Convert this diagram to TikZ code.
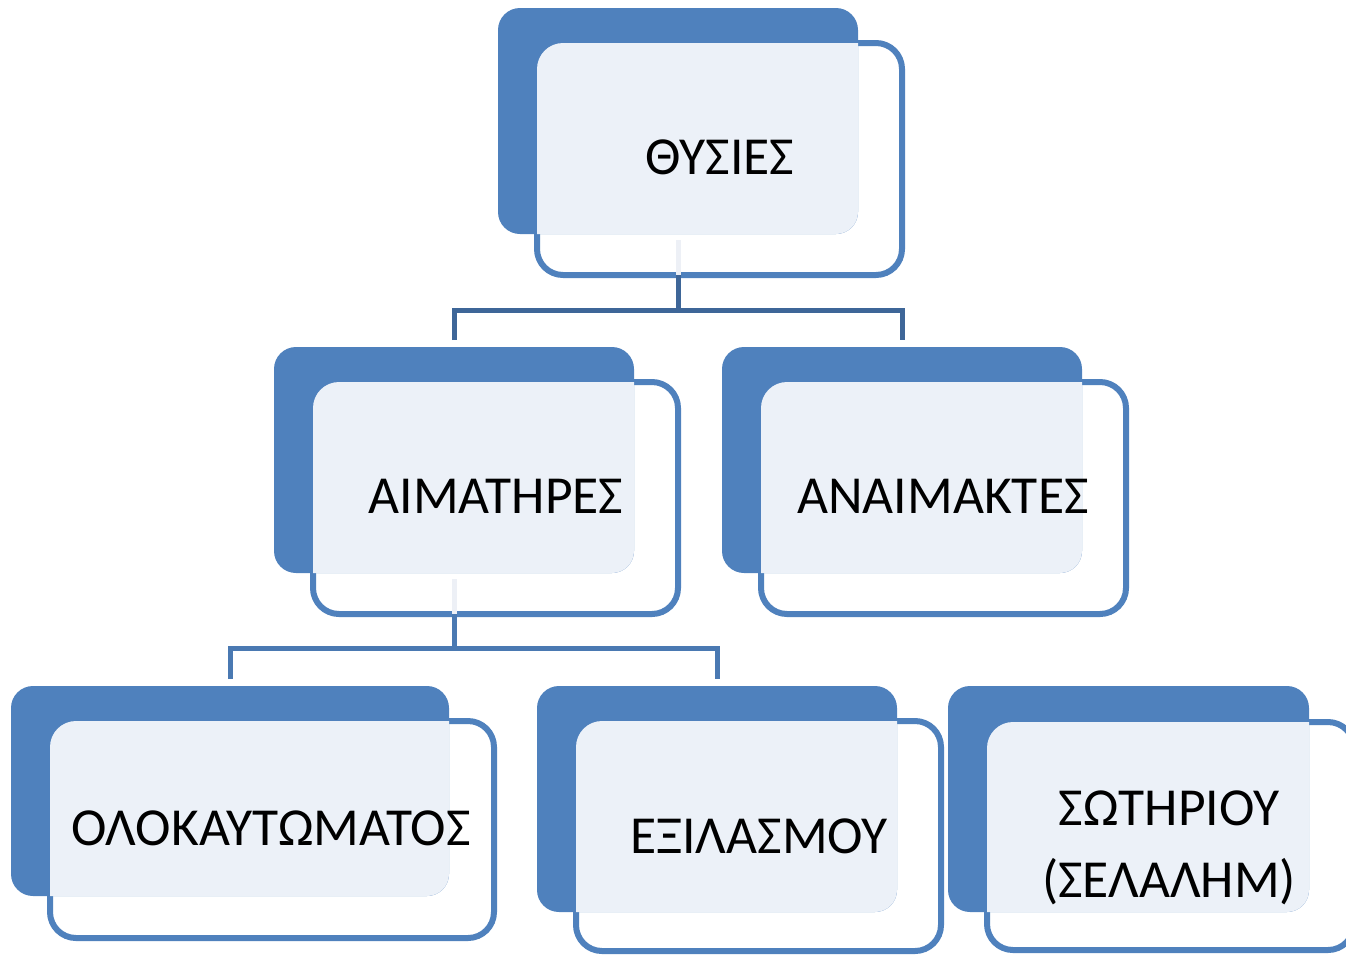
\documentclass[tikz,border=0pt]{standalone}
\usepackage{fontspec}
\setmainfont{Carlito}
\definecolor{accent}{HTML}{4F81BD}
\definecolor{lightfill}{HTML}{ECF1F8}
\definecolor{darkline}{HTML}{3E6698}
\definecolor{midline}{HTML}{4A79B2}
\definecolor{stemlight}{HTML}{EDF0F6}
\newcommand{\sacunit}[8]{%
  % #1 back x1, #2 back y1, #3 back x2, #4 back y2, #5 front x1, #6 front y1, #7 front x2, #8 front y2
  \fill[white] [rounded corners=26] (#5,#6) rectangle (#7,#8);
  \draw[frontline] [rounded corners=26] (#5,#6) rectangle (#7,#8);
  \fill[accent] [rounded corners=22] (#1,#2) rectangle (#3,#4);
  \begin{scope}
    \clip[rounded corners=26] (#5,#6) rectangle (#7,#8);
    \fill[lightfill] [rounded corners=22] (#1,#2) rectangle (#3,#4);
  \end{scope}
}
\begin{document}
\begin{tikzpicture}[x=1pt,y=-1pt,
  frontline/.style={draw=accent,line width=6pt},
  label/.style={font=\fontsize{53.5}{72}\selectfont,inner sep=0pt,anchor=base,align=center},
  toplink/.style={draw=darkline,line width=5pt},
  sublink/.style={draw=midline,line width=5pt},
  lightstem/.style={draw=stemlight,line width=5pt}]
\useasboundingbox (0,0) rectangle (1346,954);
% units
\sacunit{498}{8}{858}{234}{537}{43}{902}{275}
\sacunit{274}{347}{634}{573}{313}{382}{678}{614}
\sacunit{722}{347}{1082}{573}{761}{382}{1126}{614}
\sacunit{11}{686}{449}{896}{50}{721}{494}{938}
\sacunit{537}{686}{897}{912}{576}{721}{941}{951}
\sacunit{948}{686}{1309}{912}{987}{722}{1354}{950}
% texts
\node[label] (thysies) at (720,174) {ΘΥΣΙΕΣ};
\node[label] (aimatires) at (496,513) {ΑΙΜΑΤΗΡΕΣ};
\node[label] (anaimaktes) at (943,513) {ΑΝΑΙΜΑΚΤΕΣ};
\node[label] (olokaftomatos) at (271,845) {ΟΛΟΚΑΥΤΩΜΑΤΟΣ};
\node[label] (exilasmou) at (759,853) {ΕΞΙΛΑΣΜΟΥ};
\node[label,anchor=north] (sotiriou) at (1169,791) {ΣΩΤΗΡΙΟΥ\\(ΣΕΛΑΛΗΜ)};
% connector coordinates
\coordinate (s1a) at (678,240);
\coordinate (s1b) at (678,275);
\coordinate (s1c) at (678,310);
\coordinate (c1l) at (454,340);
\coordinate (c1r) at (902,340);
\coordinate (s2a) at (454,579);
\coordinate (s2b) at (454,614);
\coordinate (s2c) at (454,648);
\coordinate (c2l) at (230,679);
\coordinate (c2r) at (717,679);
% level 1 connectors
\draw[toplink] (s1b) -- (s1c);
\draw[toplink] (c1l) |- (s1c) -| (c1r);
\draw[lightstem] (s1a) -- (s1b);
% level 2 connectors
\draw[sublink] (s2b) -- (s2c);
\draw[sublink] (c2l) |- (s2c) -| (c2r);
\draw[lightstem] (s2a) -- (s2b);
\end{tikzpicture}
\end{document}
